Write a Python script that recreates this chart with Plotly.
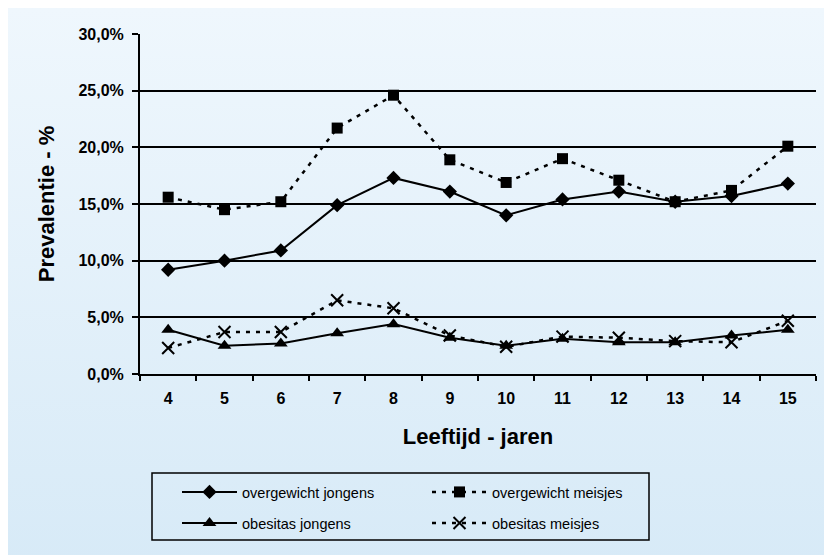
import base64
import plotly.graph_objects as go

ages = ["4", "5", "6", "7", "8", "9", "10", "11", "12", "13", "14", "15"]
overgewicht_jongens = [9.2, 10.0, 10.9, 14.9, 17.3, 16.1, 14.0, 15.4, 16.1, 15.2, 15.7, 16.8]
overgewicht_meisjes = [15.6, 14.5, 15.2, 21.7, 24.6, 18.9, 16.9, 19.0, 17.1, 15.2, 16.2, 20.1]
obesitas_jongens = [3.9, 2.5, 2.7, 3.6, 4.4, 3.2, 2.5, 3.1, 2.8, 2.8, 3.4, 3.9]
obesitas_meisjes = [2.3, 3.7, 3.7, 6.5, 5.8, 3.4, 2.4, 3.3, 3.2, 2.9, 2.8, 4.7]
y_ticks = [0, 5, 10, 15, 20, 25, 30]
y_tick_labels = ["0,0%", "5,0%", "10,0%", "15,0%", "20,0%", "25,0%", "30,0%"]
grid_ticks = [5, 10, 15, 20, 25]

FONT = "Liberation Sans, Arial, sans-serif"
W, H = 832, 555
OFF = 8  # page body margin in the screenshot
ML, MR, MT, MB = 132, 24, 26, 189
PW, PH = W - ML - MR, H - MT - MB


def px_x(x):
    # x given in screenshot pixels
    return (x - OFF - ML) / PW


def px_y(y):
    return (H - MB - (y - OFF)) / PH


svg = ('<svg xmlns="http://www.w3.org/2000/svg" width="100" height="100" viewBox="0 0 100 100" '
       'preserveAspectRatio="none"><defs><linearGradient id="g" x1="0" y1="0" x2="0" y2="1">'
       '<stop offset="0" stop-color="#eff7fd"/><stop offset="1" stop-color="#d7eaf7"/>'
       '</linearGradient></defs><rect width="100" height="100" fill="url(#g)"/></svg>')
bg_src = "data:image/svg+xml;base64," + base64.b64encode(svg.encode()).decode()

fig = go.Figure()
dotted = "4px,6px"
fig.add_trace(go.Scatter(x=ages, y=overgewicht_jongens, name="overgewicht jongens", mode="lines+markers",
                         line=dict(color="black", width=2), marker=dict(symbol="diamond", size=11, color="black"),
                         legend="legend"))
fig.add_trace(go.Scatter(x=ages, y=overgewicht_meisjes, name="overgewicht meisjes", mode="lines+markers",
                         line=dict(color="black", width=2.5, dash=dotted), marker=dict(symbol="square", size=11, color="black"),
                         legend="legend2"))
fig.add_trace(go.Scatter(x=ages, y=obesitas_jongens, name="obesitas jongens", mode="lines+markers",
                         line=dict(color="black", width=2), marker=dict(symbol="triangle-up", size=12, color="black"),
                         legend="legend3"))
fig.add_trace(go.Scatter(x=ages, y=obesitas_meisjes, name="obesitas meisjes", mode="lines+markers",
                         line=dict(color="black", width=2.5, dash=dotted),
                         marker=dict(symbol="x-thin-open", size=12, color="black", line=dict(width=2, color="black")),
                         legend="legend4"))

leg_common = dict(bgcolor="rgba(0,0,0,0)", borderwidth=0, font=dict(family=FONT, size=14.5, color="black"),
                  itemwidth=55, yanchor="middle", xanchor="left")
row1, row2 = px_y(492), px_y(523)
col1, col2 = px_x(177), px_x(427)

fig.update_layout(
    width=W, height=H, autosize=False,
    margin=dict(l=ML, r=MR, t=MT, b=MB),
    paper_bgcolor="white", plot_bgcolor="rgba(0,0,0,0)",
    font=dict(family=FONT, color="black"),
    showlegend=True,
    legend=dict(x=col1, y=row1, **leg_common),
    legend2=dict(x=col2, y=row1, **leg_common),
    legend3=dict(x=col1, y=row2, **leg_common),
    legend4=dict(x=col2, y=row2, **leg_common),
    xaxis=dict(type="category", range=[-0.5, 11.5], tickson="boundaries", ticks="outside", ticklen=5,
               tickwidth=1.5, tickcolor="black", showline=True, linewidth=2, linecolor="black",
               showgrid=False, zeroline=False, ticklabelstandoff=9,
               tickfont=dict(family=FONT, size=16, weight="bold", color="black"),
               title=dict(text="Leeftijd - jaren", font=dict(family=FONT, size=22, weight="bold", color="black"),
                          standoff=22)),
    yaxis=dict(range=[0, 30], tickvals=y_ticks, ticktext=y_tick_labels, ticks="outside",
               ticklen=6, tickwidth=1.5, tickcolor="black", showline=True, linewidth=2, linecolor="black",
               showgrid=False, zeroline=False, ticklabelstandoff=5,
               tickfont=dict(family=FONT, size=16, weight="bold", color="black"),
               title=dict(text="Prevalentie - %", font=dict(family=FONT, size=22, weight="bold", color="black"),
                          standoff=18)),
    yaxis2=dict(overlaying="y", range=[0, 30], tickvals=grid_ticks, showticklabels=False, ticks="",
                showgrid=True, gridcolor="black", gridwidth=1.5, showline=False, zeroline=False, side="left"),
    images=[dict(source=bg_src, xref="paper", yref="paper", x=-ML / PW, y=1 + MT / PH,
                 sizex=W / PW, sizey=H / PH, xanchor="left", yanchor="top",
                 sizing="stretch", layer="below")],
    shapes=[dict(type="rect", xref="paper", yref="paper", x0=px_x(152), x1=px_x(649), y0=px_y(473),
                 y1=px_y(540), line=dict(color="black", width=1.5), fillcolor="rgba(0,0,0,0)")],
)
fig.add_trace(go.Scatter(x=[], y=[], yaxis="y2", showlegend=False, hoverinfo="skip"))

fig.write_html("out.html")
